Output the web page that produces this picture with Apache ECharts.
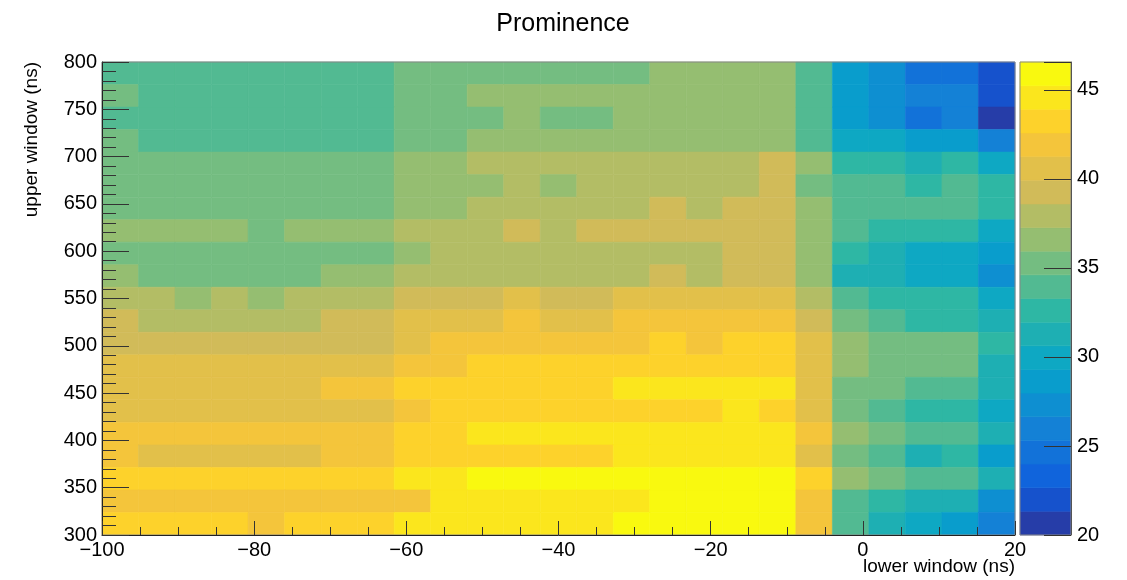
<!DOCTYPE html>
<html>
<head>
<meta charset="utf-8">
<title>Prominence</title>
<script src="https://cdn.jsdelivr.net/npm/echarts@6.0.0/dist/echarts.min.js"></script>
<style>
  html, body { margin: 0; padding: 0; background: #fff; }
  #chart { width: 1127px; height: 580px; }
</style>
</head>
<body>
<div id="chart"></div>
<script>
// histogram binning (lower window on x, upper window on y)
const lowerMin = -100
const lowerMax = 20
const lowerBins = 25
const upperMin = 300
const upperMax = 800
const upperBins = 21

// z range of the palette and number of contour levels
const zMin = 20
const zMax = 46.57
const nLevels = 20

// prominence per bin, one row per upper window bin, top row (800) first
const prominence = [
  [34.0, 34.0, 34.0, 34.0, 34.0, 34.0, 34.0, 34.0, 35.3, 35.3, 35.3, 35.3, 35.3, 35.3, 35.3, 36.6, 36.6, 36.6, 36.6, 34.0, 28.6, 27.3, 24.6, 24.6, 22.0],
  [35.3, 34.0, 34.0, 34.0, 34.0, 34.0, 34.0, 34.0, 35.3, 35.3, 36.6, 36.6, 36.6, 36.6, 36.6, 36.6, 36.6, 36.6, 36.6, 34.0, 28.6, 27.3, 26.0, 26.0, 22.0],
  [34.0, 34.0, 34.0, 34.0, 34.0, 34.0, 34.0, 34.0, 35.3, 35.3, 35.3, 36.6, 35.3, 35.3, 36.6, 36.6, 36.6, 36.6, 36.6, 34.0, 28.6, 27.3, 24.6, 26.0, 20.7],
  [35.3, 34.0, 34.0, 34.0, 34.0, 34.0, 34.0, 34.0, 35.3, 35.3, 36.6, 36.6, 36.6, 36.6, 36.6, 36.6, 36.6, 36.6, 36.6, 34.0, 30.0, 30.0, 28.6, 28.6, 26.0],
  [35.3, 35.3, 35.3, 35.3, 35.3, 35.3, 35.3, 35.3, 36.6, 36.6, 37.9, 37.9, 37.9, 37.9, 37.9, 37.9, 37.9, 37.9, 39.3, 36.6, 32.6, 32.6, 31.3, 32.6, 30.0],
  [35.3, 35.3, 35.3, 35.3, 35.3, 35.3, 35.3, 35.3, 36.6, 36.6, 36.6, 37.9, 36.6, 37.9, 37.9, 37.9, 37.9, 37.9, 39.3, 35.3, 34.0, 34.0, 32.6, 34.0, 32.6],
  [35.3, 35.3, 35.3, 35.3, 35.3, 35.3, 35.3, 35.3, 36.6, 36.6, 37.9, 37.9, 37.9, 37.9, 37.9, 39.3, 37.9, 39.3, 39.3, 36.6, 34.0, 34.0, 34.0, 34.0, 32.6],
  [36.6, 36.6, 36.6, 36.6, 35.3, 36.6, 36.6, 36.6, 37.9, 37.9, 37.9, 39.3, 37.9, 39.3, 39.3, 39.3, 39.3, 39.3, 39.3, 36.6, 34.0, 32.6, 32.6, 32.6, 30.0],
  [35.3, 35.3, 35.3, 35.3, 35.3, 35.3, 35.3, 35.3, 36.6, 37.9, 37.9, 37.9, 37.9, 37.9, 37.9, 37.9, 37.9, 39.3, 39.3, 36.6, 32.6, 31.3, 30.0, 30.0, 28.6],
  [36.6, 35.3, 35.3, 35.3, 35.3, 35.3, 36.6, 36.6, 37.9, 37.9, 37.9, 37.9, 37.9, 37.9, 37.9, 39.3, 37.9, 39.3, 39.3, 36.6, 31.3, 31.3, 30.0, 30.0, 27.3],
  [37.9, 37.9, 36.6, 37.9, 36.6, 37.9, 37.9, 37.9, 39.3, 39.3, 39.3, 40.6, 39.3, 39.3, 40.6, 40.6, 40.6, 40.6, 40.6, 37.9, 34.0, 32.6, 32.6, 32.6, 30.0],
  [39.3, 37.9, 37.9, 37.9, 37.9, 37.9, 39.3, 39.3, 40.6, 40.6, 40.6, 41.9, 40.6, 40.6, 41.9, 41.9, 41.9, 41.9, 41.9, 39.3, 35.3, 34.0, 32.6, 32.6, 31.3],
  [39.3, 39.3, 39.3, 39.3, 39.3, 39.3, 39.3, 39.3, 40.6, 41.9, 41.9, 41.9, 41.9, 41.9, 41.9, 43.3, 41.9, 43.3, 43.3, 40.6, 36.6, 35.3, 35.3, 35.3, 32.6],
  [40.6, 40.6, 40.6, 40.6, 40.6, 40.6, 40.6, 40.6, 41.9, 41.9, 43.3, 43.3, 43.3, 43.3, 43.3, 43.3, 43.3, 43.3, 43.3, 40.6, 36.6, 35.3, 35.3, 35.3, 31.3],
  [40.6, 40.6, 40.6, 40.6, 40.6, 40.6, 41.9, 41.9, 43.3, 43.3, 43.3, 43.3, 43.3, 43.3, 44.6, 44.6, 44.6, 44.6, 44.6, 40.6, 35.3, 35.3, 34.0, 34.0, 31.3],
  [40.6, 40.6, 40.6, 40.6, 40.6, 40.6, 40.6, 40.6, 41.9, 43.3, 43.3, 43.3, 43.3, 43.3, 43.3, 43.3, 43.3, 44.6, 43.3, 40.6, 35.3, 34.0, 32.6, 32.6, 30.0],
  [41.9, 41.9, 41.9, 41.9, 41.9, 41.9, 41.9, 41.9, 43.3, 43.3, 44.6, 44.6, 44.6, 44.6, 44.6, 44.6, 44.6, 44.6, 44.6, 41.9, 36.6, 35.3, 34.0, 34.0, 31.3],
  [41.9, 40.6, 40.6, 40.6, 40.6, 40.6, 41.9, 41.9, 43.3, 43.3, 43.3, 43.3, 43.3, 43.3, 44.6, 44.6, 44.6, 44.6, 44.6, 40.6, 35.3, 34.0, 31.3, 32.6, 28.6],
  [43.3, 43.3, 43.3, 43.3, 43.3, 43.3, 43.3, 43.3, 44.6, 44.6, 45.9, 45.9, 45.9, 45.9, 45.9, 45.9, 45.9, 45.9, 45.9, 43.3, 36.6, 35.3, 34.0, 34.0, 31.3],
  [41.9, 41.9, 41.9, 41.9, 41.9, 41.9, 41.9, 41.9, 41.9, 44.6, 44.6, 44.6, 44.6, 44.6, 44.6, 45.9, 45.9, 45.9, 45.9, 41.9, 34.0, 32.6, 31.3, 31.3, 27.3],
  [43.3, 43.3, 43.3, 43.3, 41.9, 43.3, 43.3, 43.3, 44.6, 44.6, 44.6, 44.6, 44.6, 44.6, 45.9, 45.9, 45.9, 45.9, 45.9, 41.9, 34.0, 31.3, 30.0, 28.6, 26.0]
]

// kBird palette, one colour per contour level
const birdColors = [
  '#263da8', '#1652cc', '#1064dc', '#1272d9', '#1481d6',
  '#0e8fd1', '#099dcc', '#0ea8c3', '#1eafb3', '#2eb7a4',
  '#52ba92', '#74bd81', '#95be71', '#b3bd65', '#d1bb59',
  '#e2c04a', '#f4c53b', '#fdd22b', '#fbe61d', '#f9f90f'
]

const font = '"Liberation Sans", Arial, Helvetica, sans-serif'

const dx = (lowerMax - lowerMin) / lowerBins
const dy = (upperMax - upperMin) / upperBins
const cells = []
prominence.forEach((row, i) => {
  const iy = upperBins - 1 - i
  row.forEach((v, ix) => {
    cells.push([lowerMin + ix * dx, lowerMin + (ix + 1) * dx, upperMin + iy * dy, upperMin + (iy + 1) * dy, v])
  })
})

const step = (zMax - zMin) / nLevels
const pieces = birdColors.map((c, k) => ({ min: zMin + k * step, max: zMin + (k + 1) * step, color: c }))
// colour bar boxes, same layout as the cells: [x0, x1, z0, z1, z]
const bands = birdColors.map((c, k) => [0, 1, zMin + k * step, zMin + (k + 1) * step, zMin + (k + 0.5) * step])

function renderCell(params, api) {
  const a = api.coord([api.value(0), api.value(3)])
  const b = api.coord([api.value(1), api.value(2)])
  const color = api.visual('color')
  return {
    type: 'rect',
    shape: { x: a[0], y: a[1], width: b[0] - a[0], height: b[1] - a[1] },
    style: { fill: color, stroke: color, lineWidth: 0.6 }
  }
}

const minus = v => String(v).replace('-', '\u2212')

const option = {
  animation: false,
  backgroundColor: '#fff',
  title: {
    text: 'Prominence',
    left: 558,
    top: 7,
    textAlign: 'center',
    textStyle: { fontSize: 25, fontWeight: 'normal', color: '#000', fontFamily: font }
  },
  grid: [
    { left: 102, top: 62, width: 913, height: 473, show: true, borderColor: '#888', borderWidth: 1, backgroundColor: 'transparent', z: 10 },
    { left: 1020, top: 62, width: 51, height: 473, show: true, borderColor: '#888', borderWidth: 1, backgroundColor: 'transparent', z: 10 }
  ],
  visualMap: {
    type: 'piecewise',
    show: false,
    dimension: 4,
    seriesIndex: [0, 1],
    pieces: pieces
  },
  xAxis: [
    {
      gridIndex: 0,
      type: 'value',
      min: lowerMin,
      max: lowerMax,
      interval: 20,
      z: 10,
      axisLine: { show: true, onZero: false, lineStyle: { color: '#222', width: 1 } },
      axisTick: { show: true, inside: true, length: 14, lineStyle: { color: '#333' } },
      minorTick: { show: true, splitNumber: 4, length: 8, lineStyle: { color: '#333' } },
      splitLine: { show: false },
      axisLabel: { fontSize: 20, color: '#000', fontFamily: font, margin: 5, formatter: minus }
    },
    { gridIndex: 1, type: 'value', min: 0, max: 1, show: false }
  ],
  yAxis: [
    {
      gridIndex: 0,
      type: 'value',
      min: upperMin,
      max: upperMax,
      interval: 50,
      z: 10,
      axisLine: { show: true, onZero: false, lineStyle: { color: '#222', width: 1 } },
      axisTick: { show: true, inside: true, length: 27, lineStyle: { color: '#333' } },
      minorTick: { show: true, splitNumber: 5, length: 14, lineStyle: { color: '#333' } },
      splitLine: { show: false },
      axisLabel: { fontSize: 20, color: '#000', fontFamily: font, margin: 5 }
    },
    {
      gridIndex: 1,
      type: 'value',
      position: 'right',
      min: zMin,
      max: zMax,
      interval: 5,
      z: 10,
      axisLine: { show: true, onZero: false, lineStyle: { color: '#555', width: 1 } },
      axisTick: { show: true, inside: true, length: 27, lineStyle: { color: '#333' } },
      splitLine: { show: false },
      axisLabel: {
        fontSize: 20, color: '#000', fontFamily: font, margin: 6,
        formatter: v => (v % 5 === 0 ? v : '')
      }
    }
  ],
  graphic: [
    {
      type: 'text',
      right: 112,
      top: 557,
      style: { text: 'lower window (ns)', fontSize: 19, fontFamily: font, fill: '#000' }
    },
    {
      type: 'text',
      x: 32,
      y: 62,
      rotation: Math.PI / 2,
      style: { text: 'upper window (ns)', fontSize: 19, fontFamily: font, fill: '#000', align: 'right', verticalAlign: 'middle' }
    }
  ],
  series: [
    {
      type: 'custom',
      xAxisIndex: 0,
      yAxisIndex: 0,
      renderItem: renderCell,
      encode: { x: [0, 1], y: [2, 3] },
      data: cells
    },
    {
      type: 'custom',
      xAxisIndex: 1,
      yAxisIndex: 1,
      renderItem: renderCell,
      encode: { x: [0, 1], y: [2, 3] },
      data: bands
    }
  ]
}

const myChart = echarts.init(document.getElementById('chart'), null, { renderer: 'canvas' })
myChart.setOption(option)
</script>
</body>
</html>
